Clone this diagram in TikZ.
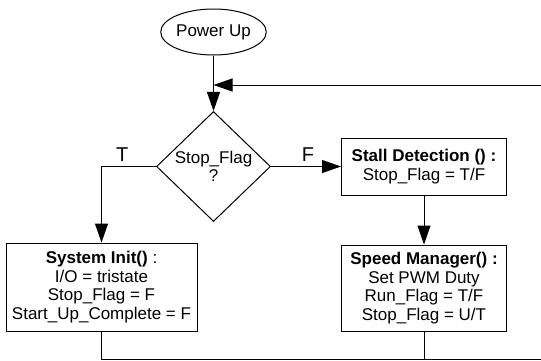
\documentclass[tikz,border=0pt]{standalone}
\usepackage{fontspec}
\setmainfont{Liberation Sans}
\usetikzlibrary{arrows.meta, positioning, shapes.geometric}

\begin{document}
\begin{tikzpicture}[
      x=1pt, y=1pt,
      every node/.style={font=\fontsize{17}{18.5}\selectfont, align=center, line width=1pt},
      startnode/.style={ellipse, draw, minimum width=96pt, minimum height=46pt, inner sep=0pt},
      decision/.style={diamond, draw, minimum width=114pt, minimum height=110pt, inner sep=0pt},
      procbox/.style={rectangle, draw, inner sep=0pt},
      branch/.style={font=\fontsize{20}{22}\selectfont, anchor=base, yshift=5pt, inner sep=0pt},
      flow/.style={line width=1pt, -{Triangle[length=19pt, width=13pt]}},
      wire/.style={line width=1pt}
    ]
  \useasboundingbox (0,0) rectangle (541,360);

  % start and decision
  \node[startnode] (power) at (213.5,328) {Power Up};
  \node[decision] (stop) at (213.5,193.5) {Stop\_Flag\\?};

  % process boxes
  \node[procbox, minimum width=191pt, minimum height=88pt] (init) at (101.5,73)
    {\textbf{System Init()} :\\I/O = tristate\\Stop\_Flag = F\\Start\_Up\_Complete = F};
  \node[procbox, minimum width=165pt, minimum height=57pt] (stall) at (424,193.5)
    {\textbf{Stall Detection () :}\\Stop\_Flag = T/F};
  \node[procbox, minimum width=165pt, minimum height=86pt] (speed) at (424,72)
    {\textbf{Speed Manager() :}\\Set PWM Duty\\Run\_Flag = T/F\\Stop\_Flag = U/T};

  % loop ends at the picture edge
  \coordinate (loopin) at (541,275);
  \coordinate (loopout) at (541,1);
  \coordinate (join) at (power.south |- loopin);

  \draw[flow] (power) -- (stop);
  \draw[flow] (loopin) -- (join);
  \draw[flow] (stop.west) -| node[pos=0.31, branch] {T} (init.north);
  \draw[flow] (stop.east) -- node[pos=0.53, branch] {F} (stall.west);
  \draw[flow] (stall) -- (speed);
  \draw[wire] (init.south) |- (loopout);
  \draw[wire] (speed.south) -- (speed.south |- loopout);
\end{tikzpicture}
\end{document}
